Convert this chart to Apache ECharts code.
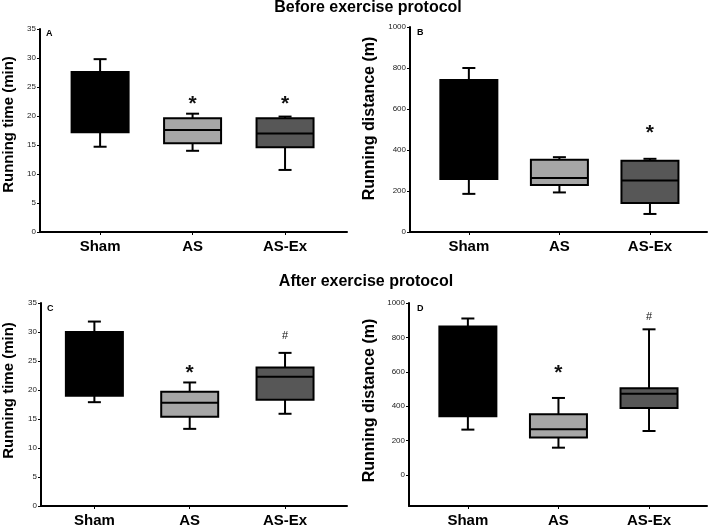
<!DOCTYPE html>
<html>
<head>
<meta charset="utf-8">
<script src="https://cdn.jsdelivr.net/npm/echarts@6/dist/echarts.min.js"></script>
<style>
  html, body { margin: 0; background: #fff; }
  #chart { width: 709px; height: 528px; }
</style>
</head>
<body>
<div id="chart"></div>
<script>
const groups = ['Sham', 'AS', 'AS-Ex']
// each box: [low whisker, q1, median, q3, high whisker]
const timeBefore = [[14.7, 17.2, 22, 27.6, 29.8], [14.0, 15.3, 17.6, 19.6, 20.4], [10.7, 14.6, 17.0, 19.6, 19.9]]
const distBefore = [[186, 258, 500, 741, 800], [193, 229, 263, 352, 365], [88, 141, 251, 348, 357]]
const timeAfter = [[17.9, 19.0, 24, 30.0, 31.8], [13.3, 15.4, 17.8, 19.7, 21.3], [15.9, 18.3, 22.3, 23.9, 26.4]]
const distAfter = [[264, 341, 600, 864, 910], [159, 218, 266, 354, 448], [256, 389, 473, 504, 847]]
// significance marks: [group index, value, mark]
const marksA = [[1, 22.9, '*'], [2, 22.9, '*']]
const marksB = [[2, 506, '*']]
const marksC = [[1, 23.8, '*'], [2, 29.3, '#']]
const marksD = [[1, 623, '*'], [2, 917, '#']]
const timeTicks = [0, 5, 10, 15, 20, 25, 30, 35]
const distTicks = [0, 200, 400, 600, 800, 1000]

const fills = ['#000000', '#a6a6a6', '#575757']
const font = 'Liberation Sans, Arial, sans-serif'
const black = { stroke: '#000', lineWidth: 2 }

function boxItem(params, api) {
  const i = api.value(0)
  const lo = api.coord([i, api.value(1)])
  const q1 = api.coord([i, api.value(2)])
  const med = api.coord([i, api.value(3)])
  const q3 = api.coord([i, api.value(4)])
  const hi = api.coord([i, api.value(5)])
  const x = lo[0], hw = 28.5, cw = 6.5
  return {
    type: 'group',
    children: [
      { type: 'line', shape: { x1: x, y1: lo[1], x2: x, y2: hi[1] }, style: black },
      { type: 'line', shape: { x1: x - cw, y1: lo[1], x2: x + cw, y2: lo[1] }, style: black },
      { type: 'line', shape: { x1: x - cw, y1: hi[1], x2: x + cw, y2: hi[1] }, style: black },
      { type: 'rect', shape: { x: x - hw, y: q3[1], width: hw * 2, height: q1[1] - q3[1] },
        style: { fill: fills[i], stroke: '#000', lineWidth: 2 } },
      { type: 'line', shape: { x1: x - hw, y1: med[1], x2: x + hw, y2: med[1] }, style: black }
    ]
  }
}

function markRenderer(marks) {
  return function (params, api) {
    const p = api.coord([api.value(0), api.value(1)])
    const m = marks[params.dataIndex][2]
    const star = m === '*'
    return {
      type: 'text',
      x: p[0], y: p[1] + (star ? 5 : 0),
      style: {
        text: m, align: 'center', verticalAlign: 'middle',
        font: (star ? 'bold 21px ' : '11px ') + font, fill: '#111'
      }
    }
  }
}

// lift: how far the y-axis title sits above the middle of its axis
const panels = [
  { grid: { left: 40, top: 29, width: 307, height: 203 }, x: [-0.65, 2.67], y: [0, 35], ticks: timeTicks,
    name: 'Running time (min)', gap: 24, size: 15, lift: 6, data: timeBefore, marks: marksA },
  { grid: { left: 410, top: 27, width: 297, height: 205 }, x: [-0.65, 2.63], y: [0, 1000], ticks: distTicks,
    name: 'Running distance (m)', gap: 32, size: 16, lift: 11, data: distBefore, marks: marksB },
  { grid: { left: 41, top: 303, width: 306, height: 205 }, x: [-0.56, 2.65], y: [0, 35], ticks: timeTicks,
    name: 'Running time (min)', gap: 25, size: 15, lift: 14, data: timeAfter, marks: marksC },
  { grid: { left: 409, top: 303, width: 298, height: 205 }, x: [-0.65, 2.64], y: [-180, 1000], ticks: distTicks,
    name: 'Running distance (m)', gap: 31, size: 16, lift: 4, data: distAfter, marks: marksD }
]

const chart = echarts.init(document.getElementById('chart'))
const option = {
  animation: false,
  backgroundColor: '#fff',
  grid: panels.map(p => p.grid),
  xAxis: panels.map((p, k) => ({
    type: 'value', gridIndex: k, min: p.x[0], max: p.x[1],
    splitLine: { show: false },
    axisLine: { onZero: false, lineStyle: { color: '#000', width: 2 } },
    axisTick: { show: true, length: 3, customValues: [0, 1, 2], lineStyle: { color: '#000', width: 1 } },
    axisLabel: {
      customValues: [0, 1, 2], formatter: v => groups[Math.round(v)],
      margin: 7, color: '#000', fontSize: 15, fontWeight: 'bold', fontFamily: font
    }
  })),
  yAxis: panels.map((p, k) => ({
    type: 'value', gridIndex: k, min: p.y[0], max: p.y[1],
    name: p.name, nameLocation: 'middle', nameGap: p.gap,
    nameTextStyle: { color: '#000', fontSize: p.size, fontWeight: 'bold', fontFamily: font, padding: [0, 0, 0, p.lift * 2] },
    splitLine: { show: false },
    axisLine: { show: true, onZero: false, lineStyle: { color: '#000', width: 2 } },
    axisTick: { show: true, length: 3, customValues: p.ticks, lineStyle: { color: '#000', width: 1 } },
    axisLabel: { customValues: p.ticks, formatter: v => String(v), margin: 4, color: '#222', fontSize: 8, fontFamily: font }
  })),
  series: panels.flatMap((p, k) => [
    {
      type: 'custom', xAxisIndex: k, yAxisIndex: k,
      renderItem: boxItem,
      encode: { x: 0, y: [1, 2, 3, 4, 5] },
      data: p.data.map((b, i) => [i].concat(b))
    },
    {
      type: 'custom', xAxisIndex: k, yAxisIndex: k,
      renderItem: markRenderer(p.marks),
      encode: { x: 0, y: 1 },
      data: p.marks.map(m => [m[0], m[1]])
    }
  ]),
  graphic: [
    { type: 'text', x: 368, y: 0, style: { text: 'Before exercise protocol', font: 'bold 16px ' + font, fill: '#000', align: 'center' } },
    { type: 'text', x: 366, y: 274, style: { text: 'After exercise protocol', font: 'bold 16px ' + font, fill: '#000', align: 'center' } },
    { type: 'text', x: 46, y: 29, style: { text: 'A', font: 'bold 9px ' + font, fill: '#000' } },
    { type: 'text', x: 417, y: 28, style: { text: 'B', font: 'bold 9px ' + font, fill: '#000' } },
    { type: 'text', x: 47, y: 304, style: { text: 'C', font: 'bold 9px ' + font, fill: '#000' } },
    { type: 'text', x: 417, y: 304, style: { text: 'D', font: 'bold 9px ' + font, fill: '#000' } }
  ]
}
chart.setOption(option)
</script>
</body>
</html>
